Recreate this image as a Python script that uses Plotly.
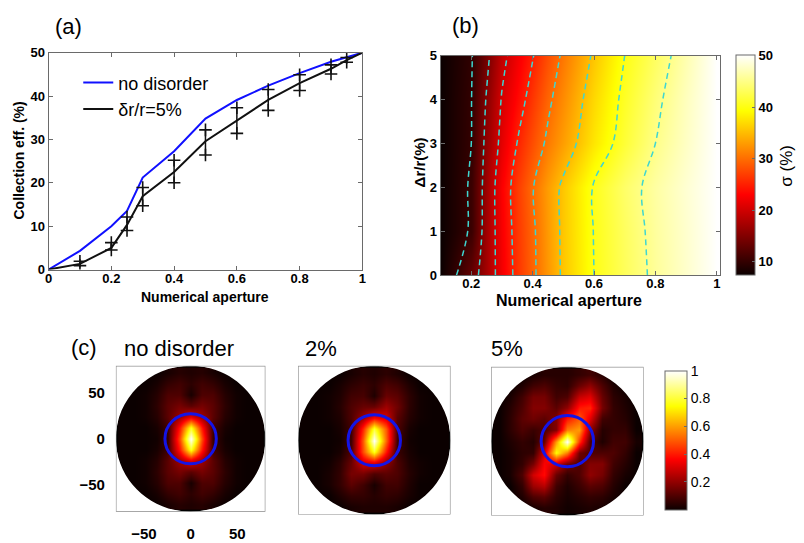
import numpy as np
import plotly.graph_objects as go

# ---------------- (a) collection efficiency vs numerical aperture ----------------
na_clean = [0, 0.1, 0.2, 0.25, 0.3, 0.4, 0.5, 0.6, 0.7, 0.8, 0.9, 0.95, 1.0]
eff_clean = [0, 4.3, 10.0, 13.5, 21.2, 27.3, 34.8, 39.1, 42.4, 45.3, 47.9, 48.9, 50]

na_dis = [0, 0.1, 0.2, 0.25, 0.3, 0.4, 0.5, 0.6, 0.7, 0.8, 0.9, 0.95, 1.0]
eff_dis = [0, 1.3, 5.0, 10.3, 16.9, 22.5, 29.6, 34.3, 39.1, 43.0, 46.3, 48.3, 50]

na_err = [0.1, 0.2, 0.25, 0.3, 0.4, 0.5, 0.6, 0.7, 0.8, 0.9, 0.95]
eff_err_hi = [1.9, 6.2, 12.1, 18.9, 25.2, 32.2, 37.3, 41.5, 44.9, 47.2, 48.9]
eff_err_lo = [0.9, 4.5, 9.0, 14.7, 20.0, 26.4, 31.4, 36.7, 41.3, 45.1, 47.8]

# ---------------- (b) map over NA and disorder ----------------
na_grid = [0.1, 0.15, 0.2, 0.25, 0.3, 0.35, 0.4, 0.45, 0.5, 0.6, 0.7, 0.8, 0.9, 1.0]
dr_grid = [0, 1, 2, 3, 4, 5]
sigma_rows = [
    [7.3, 9.9, 13.1, 17.2, 22.1, 26.2, 29.3, 32.5, 35.6, 40.0, 43.0, 45.7, 47.8, 50],
    [7.3, 8.7, 10.4, 17.0, 22.4, 26.4, 29.4, 32.7, 35.7, 40.1, 43.2, 45.9, 47.9, 50],
    [7.3, 8.7, 10.4, 16.8, 22.7, 26.7, 29.8, 32.9, 35.7, 40.3, 43.6, 46.1, 48.1, 50],
    [7.3, 8.6, 10.0, 16.1, 21.2, 25.1, 27.9, 30.7, 33.1, 37.6, 41.5, 45.0, 47.5, 50],
    [7.3, 8.6, 9.9, 15.3, 20.3, 23.4, 26.4, 29.3, 31.9, 36.7, 40.8, 44.3, 47.2, 50],
    [7.3, 8.5, 9.7, 14.1, 18.9, 22.1, 24.8, 27.8, 30.6, 35.5, 40.0, 43.3, 46.6, 50],
]
sigma_ticks = [10, 20, 30, 40, 50]

# ---------------- (c) far-field intensity maps ----------------
k_grid = [-72, -60, -48, -36, -24, -12, 0, 12, 24, 36, 48, 60, 72]
k_ticks = [-50, 0, 50]
# rows listed from top (k_y = 72) to bottom (k_y = -72)
ff_clean = [
    [0, 0, 0, 0, 0.02, 0.04, 0.03, 0.04, 0.02, 0, 0, 0, 0],
    [0, 0, 0, 0.02, 0.06, 0.08, 0.05, 0.08, 0.06, 0.02, 0, 0, 0],
    [0, 0, 0.01, 0.04, 0.10, 0.10, 0.02, 0.10, 0.10, 0.04, 0.01, 0, 0],
    [0, 0, 0.01, 0.05, 0.12, 0.16, 0.12, 0.16, 0.12, 0.05, 0.01, 0, 0],
    [0, 0, 0.01, 0.04, 0.12, 0.22, 0.32, 0.22, 0.12, 0.04, 0.01, 0, 0],
    [0, 0, 0, 0.02, 0.08, 0.40, 0.78, 0.40, 0.08, 0.02, 0, 0, 0],
    [0, 0, 0, 0.01, 0.07, 0.48, 1.00, 0.48, 0.07, 0.01, 0, 0, 0],
    [0, 0, 0, 0.02, 0.08, 0.40, 0.78, 0.40, 0.08, 0.02, 0, 0, 0],
    [0, 0, 0.01, 0.04, 0.12, 0.22, 0.32, 0.22, 0.12, 0.04, 0.01, 0, 0],
    [0, 0, 0.01, 0.05, 0.12, 0.16, 0.12, 0.16, 0.12, 0.05, 0.01, 0, 0],
    [0, 0, 0.01, 0.04, 0.10, 0.10, 0.02, 0.10, 0.10, 0.04, 0.01, 0, 0],
    [0, 0, 0, 0.02, 0.06, 0.08, 0.05, 0.08, 0.06, 0.02, 0, 0, 0],
    [0, 0, 0, 0, 0.02, 0.04, 0.03, 0.04, 0.02, 0, 0, 0, 0],
]
ff_2pct = [
    [0, 0, 0, 0, 0.02, 0.04, 0.03, 0.05, 0.03, 0, 0, 0, 0],
    [0, 0, 0, 0.02, 0.05, 0.07, 0.05, 0.10, 0.08, 0.03, 0, 0, 0],
    [0, 0, 0.01, 0.03, 0.08, 0.09, 0.03, 0.14, 0.12, 0.05, 0.01, 0, 0],
    [0, 0, 0.01, 0.04, 0.10, 0.14, 0.14, 0.22, 0.15, 0.05, 0.01, 0, 0],
    [0, 0, 0.01, 0.03, 0.10, 0.22, 0.36, 0.30, 0.12, 0.04, 0.01, 0, 0],
    [0, 0, 0, 0.02, 0.08, 0.42, 0.80, 0.50, 0.10, 0.02, 0, 0, 0],
    [0, 0, 0, 0.01, 0.08, 0.50, 1.00, 0.52, 0.08, 0.01, 0, 0, 0],
    [0, 0, 0, 0.02, 0.10, 0.48, 0.78, 0.40, 0.07, 0.02, 0, 0, 0],
    [0, 0, 0.01, 0.05, 0.14, 0.30, 0.32, 0.20, 0.10, 0.03, 0.01, 0, 0],
    [0, 0, 0.02, 0.06, 0.16, 0.16, 0.10, 0.12, 0.10, 0.04, 0.01, 0, 0],
    [0, 0, 0.02, 0.06, 0.12, 0.08, 0.02, 0.08, 0.08, 0.03, 0, 0, 0],
    [0, 0, 0, 0.03, 0.06, 0.06, 0.04, 0.06, 0.05, 0.02, 0, 0, 0],
    [0, 0, 0, 0, 0.02, 0.03, 0.03, 0.03, 0.02, 0, 0, 0, 0],
]
ff_5pct = [
    [0, 0, 0, 0.02, 0.04, 0.04, 0.04, 0.06, 0.08, 0.04, 0, 0, 0],
    [0, 0, 0.03, 0.08, 0.10, 0.06, 0.05, 0.14, 0.20, 0.10, 0.03, 0, 0],
    [0, 0.02, 0.08, 0.16, 0.16, 0.08, 0.10, 0.28, 0.32, 0.14, 0.05, 0.02, 0],
    [0, 0.04, 0.10, 0.18, 0.18, 0.12, 0.20, 0.40, 0.42, 0.16, 0.06, 0.03, 0],
    [0, 0.05, 0.12, 0.15, 0.12, 0.18, 0.40, 0.50, 0.32, 0.08, 0.06, 0.04, 0],
    [0, 0.05, 0.10, 0.07, 0.10, 0.18, 0.55, 0.60, 0.20, 0.04, 0.06, 0.06, 0],
    [0, 0.03, 0.06, 0.04, 0.14, 0.60, 1.00, 0.45, 0.10, 0.03, 0.08, 0.08, 0.02],
    [0, 0.02, 0.05, 0.06, 0.30, 0.75, 0.55, 0.15, 0.10, 0.10, 0.10, 0.06, 0],
    [0, 0.02, 0.06, 0.16, 0.36, 0.30, 0.16, 0.10, 0.18, 0.18, 0.08, 0.04, 0],
    [0, 0.02, 0.10, 0.30, 0.38, 0.14, 0.06, 0.10, 0.20, 0.16, 0.06, 0.02, 0],
    [0, 0, 0.06, 0.22, 0.26, 0.08, 0.03, 0.07, 0.12, 0.10, 0.04, 0, 0],
    [0, 0, 0.03, 0.10, 0.12, 0.05, 0.02, 0.04, 0.06, 0.05, 0.02, 0, 0],
    [0, 0, 0, 0.02, 0.04, 0.03, 0.01, 0.02, 0.03, 0.02, 0, 0, 0],
]
ff_ticks = [0.2, 0.4, 0.6, 0.8, 1]
ff_titles = ["no disorder", "2%", "5%"]
pupil_radius = 80        # edge of the collected angular range
objective_radius = 27.5  # blue circle: detection aperture

HOT = [[0.0, "rgb(11,0,0)"], [0.365, "rgb(255,0,0)"],
       [0.746, "rgb(255,255,0)"], [1.0, "rgb(255,255,255)"]]

W, H = 804, 543


def px_dom(a, b, total):
    return [a / total, b / total]


def py_dom(top, bottom):
    return [1 - bottom / H, 1 - top / H]


BOLD = dict(family="Liberation Sans, Arial", size=13, color="black", weight="bold")
FRAME = "#6a6a6a"

fig = go.Figure()

# (a) curves
fig.add_trace(go.Scatter(x=na_clean, y=eff_clean, mode="lines", name="no disorder",
                         line=dict(color="#1010ff", width=2), xaxis="x", yaxis="y"))
fig.add_trace(go.Scatter(x=na_dis, y=eff_dis, mode="lines", name="δr/r=5%",
                         line=dict(color="#111111", width=2), xaxis="x", yaxis="y"))
err_span = [h - l for h, l in zip(eff_err_hi, eff_err_lo)]
fig.add_trace(go.Scatter(x=na_err, y=eff_err_lo, mode="markers", showlegend=False,
                         marker=dict(size=1, opacity=0),
                         error_y=dict(type="data", symmetric=False, array=err_span,
                                      arrayminus=[0] * len(err_span), width=0,
                                      thickness=1.5, color="#111111"),
                         xaxis="x", yaxis="y", hoverinfo="skip"))
fig.add_trace(go.Scatter(x=na_err + na_err, y=eff_err_hi + eff_err_lo, mode="markers",
                         showlegend=False,
                         marker=dict(symbol="cross-thin", size=9,
                                     line=dict(color="#111111", width=1.6)),
                         xaxis="x", yaxis="y", hoverinfo="skip"))

# (b) map with dashed iso-lines
fig.add_trace(go.Contour(x=na_grid, y=dr_grid, z=sigma_rows, coloraxis="coloraxis",
                         contours=dict(start=10, end=45, size=5, coloring="heatmap",
                                       showlines=True),
                         line=dict(color="#3fd6d0", width=1.5, dash="6px,4px"),
                         xaxis="x2", yaxis="y2", showlegend=False))

# (c) intensity maps
for i, ff in enumerate([ff_clean, ff_2pct, ff_5pct]):
    ax = i + 3
    fig.add_trace(go.Heatmap(x=k_grid, y=k_grid[::-1], z=ff, zsmooth="best",
                             coloraxis="coloraxis2", xaxis=f"x{ax}", yaxis=f"y{ax}",
                             showlegend=False))

# ---------------- layout ----------------
axis_common = dict(showline=True, linecolor=FRAME, linewidth=1, mirror="ticks",
                   ticks="inside", ticklen=4, tickcolor=FRAME, showgrid=False,
                   zeroline=False, tickfont=BOLD)

layout = dict(
    width=W, height=H, margin=dict(l=0, r=0, t=0, b=0),
    paper_bgcolor="white", plot_bgcolor="white",
    showlegend=True,
    legend=dict(x=75 / W, y=1 - 59 / H, xanchor="left", yanchor="top",
                bgcolor="rgba(0,0,0,0)", itemwidth=30,
                font=dict(family="Liberation Sans, Arial", size=18, color="black"),
                tracegroupgap=0),
    xaxis=dict(domain=px_dom(45, 362, W), range=[0, 1], dtick=0.2, anchor="y",
               ticklabelstandoff=-3, **axis_common),
    yaxis=dict(domain=py_dom(47, 270), range=[0, 50], dtick=10, anchor="x",
               **axis_common),
    xaxis2=dict(domain=px_dom(441, 723, W), range=[0.1, 1.01],
                tickvals=[0.2, 0.4, 0.6, 0.8, 1], anchor="y2", ticklabelstandoff=-4,
                **axis_common),
    yaxis2=dict(domain=py_dom(50, 276), range=[0, 5], dtick=1, anchor="x2",
                **axis_common),
    coloraxis=dict(cmin=7.3, cmax=50, colorscale=HOT,
                   colorbar=dict(x=739 / W, xanchor="left", xpad=0, ypad=0,
                                 y=1 - 163 / H, yanchor="middle", len=226 / H,
                                 lenmode="fraction", thickness=19,
                                 outlinecolor=FRAME, outlinewidth=1,
                                 tickvals=sigma_ticks, ticks="inside", ticklen=3,
                                 tickcolor=FRAME, tickfont=BOLD)),
    coloraxis2=dict(cmin=0, cmax=1, colorscale=HOT,
                    colorbar=dict(x=668 / W, xanchor="left", xpad=0, ypad=0,
                                  y=1 - 445.5 / H, yanchor="middle", len=143 / H,
                                  lenmode="fraction", thickness=22,
                                  outlinecolor=FRAME, outlinewidth=1,
                                  tickvals=ff_ticks, ticktext=[str(t) for t in ff_ticks],
                                  ticks="inside", ticklen=3, tickcolor=FRAME,
                                  tickfont=dict(family="Liberation Sans, Arial",
                                                size=14, color="black"))),
)

img_boxes = [(113, 264, 369, 519), (297, 451, 369, 522), (492, 646, 370, 523)]
for i, (x0, x1, y0, y1) in enumerate(img_boxes):
    ax = i + 3
    first = i == 0
    layout[f"xaxis{ax}"] = dict(domain=px_dom(x0, x1, W), range=[-pupil_radius, pupil_radius],
                                anchor=f"y{ax}", showgrid=False, zeroline=False,
                                showline=False, ticks="", tickvals=k_ticks,
                                showticklabels=first, ticklabelstandoff=11,
                                tickfont=dict(family="Liberation Sans, Arial", size=15,
                                              color="black", weight="bold"))
    layout[f"yaxis{ax}"] = dict(domain=py_dom(y0, y1), range=[-pupil_radius, pupil_radius],
                                anchor=f"x{ax}", showgrid=False, zeroline=False,
                                showline=False, ticks="", tickvals=k_ticks,
                                showticklabels=first, ticklabelstandoff=10,
                                tickfont=dict(family="Liberation Sans, Arial", size=15,
                                              color="black", weight="bold"))

fig.update_layout(**layout)


def pupil_mask_path(r, half):
    k = 0.5523 * r
    outer = f"M{-half},{-half} L{half},{-half} L{half},{half} L{-half},{half} Z"
    circ = (f" M{r},0 C{r},{-k} {k},{-r} 0,{-r} C{-k},{-r} {-r},{-k} {-r},0"
            f" C{-r},{k} {-k},{r} 0,{r} C{k},{r} {r},{k} {r},0 Z")
    return outer + circ


shapes = []
for i in range(3):
    ax = i + 3
    xr, yr = f"x{ax}", f"y{ax}"
    R = pupil_radius
    shapes.append(dict(type="circle", xref=xr, yref=yr, x0=-R, x1=R, y0=-R, y1=R,
                       fillcolor="black", line=dict(width=0), layer="below"))
    shapes.append(dict(type="path", xref=xr, yref=yr, path=pupil_mask_path(R, R),
                       fillcolor="white", fillrule="evenodd", line=dict(width=0),
                       layer="above"))
    shapes.append(dict(type="rect", xref=xr, yref=yr, x0=-R, x1=R, y0=-R, y1=R,
                       line=dict(color="#8a8a8a", width=1.2), fillcolor="rgba(0,0,0,0)",
                       layer="above"))
    r0 = objective_radius
    shapes.append(dict(type="circle", xref=xr, yref=yr, x0=-r0, x1=r0, y0=-r0, y1=r0,
                       line=dict(color="#1414e6", width=3), layer="above"))
fig.update_layout(shapes=shapes)

LABEL = dict(family="Liberation Sans, Arial", size=14, color="black", weight="bold")
TITLE = dict(family="Liberation Sans, Arial", size=22, color="black")


def note(text, x, y, font, angle=0):
    fig.add_annotation(text=text, x=x / W, y=1 - y / H, xref="paper", yref="paper",
                       showarrow=False, font=font, textangle=angle,
                       xanchor="center", yanchor="middle")


note("(a)", 65, 20, TITLE)
note("(b)", 466, 19, TITLE)
note("(c)", 81, 350, TITLE)
note("Collection eff. (%)", 15, 158, LABEL, -90)
note("Numerical aperture", 203, 298, LABEL)
note("Numerical aperture", 571, 302, dict(LABEL, size=16))
note("Δr/r(%)", 420, 160, dict(LABEL, size=15), -90)
note("σ (%)", 790, 163, dict(family="Liberation Sans, Arial", size=17, color="black"), -90)
for title, cx in zip(ff_titles, [177, 320, 508]):
    note(title, cx, 351, TITLE)

fig.write_html("out.html")
